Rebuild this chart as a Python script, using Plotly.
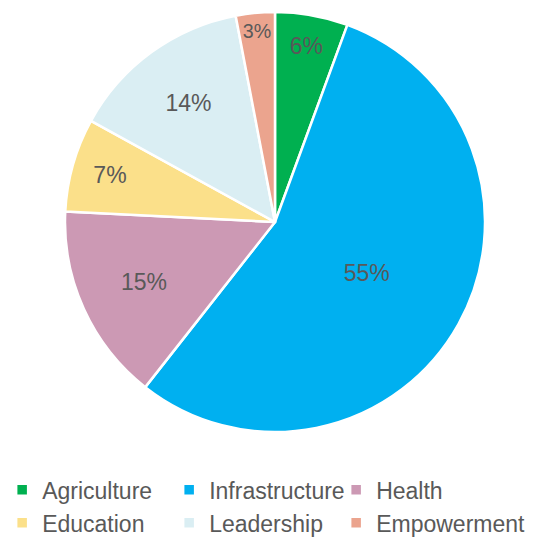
import plotly.graph_objects as go

categories = ["Agriculture", "Infrastructure", "Health", "Education", "Leadership", "Empowerment"]
values = [5.6, 55.0, 15.2, 7.2, 14.0, 3.0]
colors = ["#00B050", "#00B0F0", "#CC99B4", "#FBE08A", "#DAEEF3", "#EBA48E"]

W, H = 539, 547
cx, cy, r = 275, 222, 210

fig = go.Figure(go.Pie(
    labels=categories,
    values=values,
    sort=False,
    direction="clockwise",
    rotation=0,
    marker=dict(colors=colors, line=dict(color="white", width=2.5)),
    texttemplate="%{percent:.0%}",
    textposition="inside",
    insidetextorientation="horizontal",
    textfont=dict(family="Liberation Sans, Arial, sans-serif", size=23, color="#595959"),
    domain=dict(x=[(cx - r) / W, (cx + r) / W], y=[(H - (cy + r)) / H, (H - (cy - r)) / H]),
    hoverinfo="label+percent",
))

fig.update_layout(
    width=W, height=H,
    margin=dict(l=0, r=0, t=0, b=0, autoexpand=False),
    paper_bgcolor="white",
    showlegend=True,
    legend=dict(
        orientation="h",
        x=0.004, y=0.1437, xanchor="left", yanchor="top",
        entrywidth=122, entrywidthmode="pixels",
        bgcolor="rgba(0,0,0,0)",
        font=dict(family="Liberation Sans, Arial, sans-serif", size=23, color="#595959"),
        itemwidth=30,
        tracegroupgap=0,
    ),
)

fig.write_html(
    "out.html",
    config={"displayModeBar": False},
    post_script=(
        "document.body.style.margin='0';document.body.style.overflow='hidden';"
        "document.querySelectorAll('.legend .scrollbox').forEach(function(e){e.removeAttribute('clip-path');});"
    ),
)
